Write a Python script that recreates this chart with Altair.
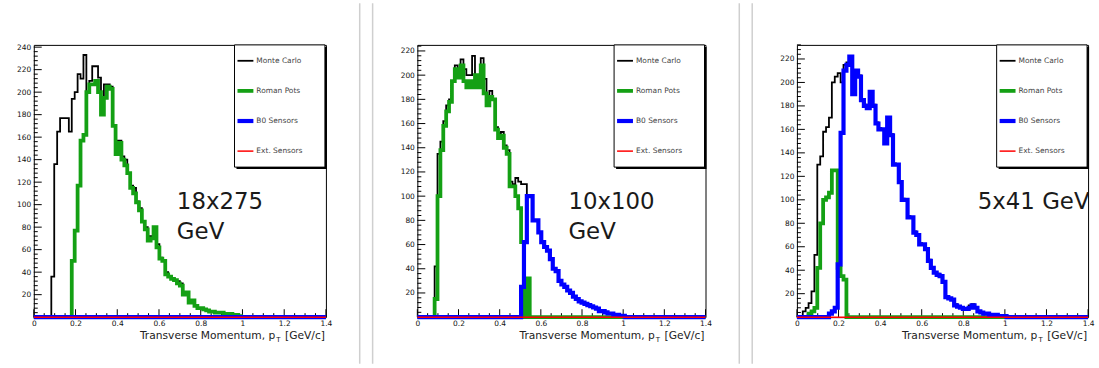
import altair as alt
import pandas as pd

NBINS = 100
XMAX = 1.4

# ---------------- data: bin contents (100 bins of 0.014 on 0..1.4) ----------------
# each series is given from its first listed bin (start index); other bins are 0
# Panel 1: 18x275 GeV
p1_mc_start = 6
p1_mc = [36, 136, 165, 177, 177, 177, 165, 194, 200, 216, 212, 233, 200, 210, 223, 223,
         213, 195, 207, 207, 205, 170, 157, 157, 143, 140, 128, 117, 115, 103, 97, 85,
         80, 72, 72, 80, 65, 53, 50, 40, 36, 35, 33, 32, 30, 22, 22, 14, 15, 10, 8, 8,
         7, 6, 5, 5, 4, 4, 4, 3, 3, 3, 2, 2, 1]
p1_rp_start = 13
p1_rp = [50, 77, 117, 157, 162, 200, 207, 207, 210, 200, 180, 195, 205, 203, 170, 145,
         155, 140, 135, 128, 115, 110, 102, 95, 85, 78, 68, 70, 80, 62, 52, 50, 38, 36,
         34, 33, 30, 28, 20, 22, 13, 15, 10, 8, 8, 7, 6, 5, 5, 4, 4, 4, 3, 3, 3, 2, 2, 1]
p1_b0_start = 0
p1_b0 = []
p1_ext_start = 0
p1_ext = []

# Panel 2: 10x100 GeV
p2_mc_start = 6
p2_mc = [42, 135, 145, 162, 175, 180, 195, 208, 205, 213, 205, 200, 200, 216, 200, 190,
         214, 197, 183, 187, 180, 157, 152, 153, 142, 138, 112, 110, 115, 112, 110, 110,
         100, 100, 80, 80, 70, 62, 58, 55, 48, 40, 38, 30, 27, 25, 22, 20, 17, 15, 13,
         12, 11, 10, 9, 8, 7, 5, 5, 4, 3, 3, 2, 2, 1, 1]
p2_rp_start = 6
p2_rp = [15, 100, 138, 158, 170, 178, 195, 205, 198, 208, 195, 190, 195, 190, 200, 190,
         208, 185, 175, 182, 180, 155, 148, 150, 140, 135, 108, 108, 100, 90, 62, 0, 32]
p2_b0_start = 36
p2_b0 = [25, 62, 100, 100, 80, 80, 70, 62, 58, 55, 48, 40, 38, 30, 27, 25, 22, 20, 17,
         15, 13, 12, 11, 10, 9, 8, 7, 5, 5, 4, 3, 3, 2, 2, 1, 1]
p2_ext_start = 0
p2_ext = []

# Panel 3: 5x41 GeV
p3_mc_start = 2
p3_mc = [5, 8, 12, 22, 53, 130, 137, 158, 162, 170, 200, 205, 208, 200, 215, 217, 222,
         192, 210, 206, 186, 181, 179, 192, 181, 166, 161, 160, 149, 170, 156, 131, 130,
         116, 101, 100, 86, 85, 73, 70, 63, 62, 58, 49, 42, 38, 37, 35, 30, 18, 16, 15,
         11, 9, 8, 7, 8, 10, 11, 8, 5, 4, 3, 3, 2, 2, 2, 1, 1, 1]
p3_rp_start = 4
p3_rp = [3, 5, 8, 42, 80, 100, 102, 106, 125, 125, 42, 35, 32]
p3_b0_start = 11
p3_b0 = [3, 5, 8, 45, 157, 210, 215, 222, 190, 210, 205, 185, 180, 178, 192, 180, 165,
         160, 160, 148, 170, 155, 130, 130, 115, 100, 100, 85, 85, 72, 70, 62, 62, 58,
         48, 42, 38, 36, 35, 30, 17, 16, 15, 10, 9, 8, 7, 7, 8, 10, 8, 5, 4, 3, 3, 2, 2,
         2, 1, 1, 1]
p3_ext_start = 0
p3_ext = []

series_names = ["Monte Carlo", "Roman Pots", "B0 Sensors", "Ext. Sensors"]
series_colors = ["#000000", "#14a014", "#0000ff", "#ff0000"]
series_widths = [1.8, 3.8, 4.2, 1.5]

panel_labels = ["18x275\nGeV", "10x100\nGeV", "5x41 GeV"]
panel_ymax = [242, 225, 232]
panel_width = [294, 290, 293]
PANEL_H = 274

x_label_values = [0, 0.2, 0.4, 0.6, 0.8, 1.0, 1.2, 1.4]
x_minor_values = [0.05, 0.1, 0.15, 0.25, 0.3, 0.35, 0.45, 0.5, 0.55, 0.65, 0.7, 0.75,
                  0.85, 0.9, 0.95, 1.05, 1.1, 1.15, 1.25, 1.3, 1.35]
y_label_values = [20, 40, 60, 80, 100, 120, 140, 160, 180, 200, 220, 240]
x_title_main = "Transverse Momentum, p"
x_title_sub = "T"
x_title_unit = "[GeV/c]"

FONT = "DejaVu Sans"

all_series = [
    [(p1_mc_start, p1_mc), (p1_rp_start, p1_rp), (p1_b0_start, p1_b0), (p1_ext_start, p1_ext)],
    [(p2_mc_start, p2_mc), (p2_rp_start, p2_rp), (p2_b0_start, p2_b0), (p2_ext_start, p2_ext)],
    [(p3_mc_start, p3_mc), (p3_rp_start, p3_rp), (p3_b0_start, p3_b0), (p3_ext_start, p3_ext)],
]


def hist_df(start, vals):
    arr = [0.0] * NBINS
    for i, v in enumerate(vals):
        arr[start + i] = v
    edges = [round(i * XMAX / NBINS, 6) for i in range(NBINS + 1)]
    return pd.DataFrame({"x": edges, "y": arr + [arr[-1]]})


one = pd.DataFrame({"k": [0]})


def make_panel(idx):
    W = panel_width[idx]
    H = PANEL_H
    ymax = panel_ymax[idx]
    xsc = alt.Scale(domain=[0, XMAX], nice=False, zero=False)
    ysc = alt.Scale(domain=[0, ymax], nice=False, zero=False)
    xa = alt.Axis(values=x_label_values, format="~g", ticks=False, domain=False, grid=False,
                  labelFontSize=7.5, labelPadding=2, labelFlush=False, labelOverlap=False,
                  labelFont=FONT, labelColor="#111", title=None)
    ya = alt.Axis(values=[v for v in y_label_values if v <= ymax], ticks=False, domain=False,
                  grid=False, labelFontSize=7.5, labelPadding=3, labelOverlap=False,
                  labelFont=FONT, labelColor="#111", title=None)
    X = lambda f: alt.X(f, type="quantitative", scale=xsc, axis=xa)
    Y = lambda f: alt.Y(f, type="quantitative", scale=ysc, axis=ya)

    layers = []
    y_major = pd.DataFrame({"v": [0] + [v for v in y_label_values if v <= ymax]})
    y_minor = pd.DataFrame({"v": [v for v in range(0, int(ymax) + 1, 4) if v % 20 != 0]})
    layers.append(alt.Chart(y_major).mark_rule(color="black", strokeWidth=1).encode(
        y=Y("v"), x=alt.value(0), x2=alt.value(8)))
    layers.append(alt.Chart(y_minor).mark_rule(color="black", strokeWidth=1).encode(
        y=Y("v"), x=alt.value(0), x2=alt.value(4)))
    layers.append(alt.Chart(pd.DataFrame({"v": x_label_values})).mark_rule(
        color="black", strokeWidth=1).encode(x=X("v"), y=alt.value(H), y2=alt.value(H - 8)))
    layers.append(alt.Chart(pd.DataFrame({"v": x_minor_values})).mark_rule(
        color="black", strokeWidth=1).encode(x=X("v"), y=alt.value(H), y2=alt.value(H - 4)))

    for s, (start, vals) in enumerate(all_series[idx]):
        layers.append(alt.Chart(hist_df(start, vals)).mark_line(
            interpolate="step-after", color=series_colors[s], strokeWidth=series_widths[s]
        ).encode(x=X("x"), y=Y("y")))

    # energy label
    lx = [144, 152, 182][idx]
    layers.append(alt.Chart(one).mark_text(
        align="left", baseline="alphabetic", fontSize=23, font=FONT, color="#1a1a1a",
        lineBreak="\n", lineHeight=30, clip=True
    ).encode(x=alt.value(lx), y=alt.value(165), text=alt.value(panel_labels[idx])))

    # legend box with shadow
    L = W - 92
    layers.append(alt.Chart(one).mark_rect(fill="black").encode(
        x=alt.value(L + 2), x2=alt.value(W + 1), y=alt.value(2), y2=alt.value(125)))
    layers.append(alt.Chart(one).mark_rect(fill="white", stroke="black", strokeWidth=1).encode(
        x=alt.value(L), x2=alt.value(W - 1), y=alt.value(0), y2=alt.value(123)))
    for k in range(4):
        yy = 16 + 30.3 * k
        layers.append(alt.Chart(one).mark_rule(
            color=series_colors[k], strokeWidth=series_widths[k]).encode(
            x=alt.value(L + 3), x2=alt.value(L + 19), y=alt.value(yy)))
        layers.append(alt.Chart(one).mark_text(
            align="left", baseline="middle", fontSize=7.5, font=FONT, color="#444").encode(
            x=alt.value(L + 22), y=alt.value(yy), text=alt.value(series_names[k])))

    # x-axis title, right aligned, with subscript
    layers.append(alt.Chart(one).mark_text(
        align="right", baseline="middle", fontSize=10.75, font=FONT, color="#222").encode(
        x=alt.value(W - 51), y=alt.value(H + 18.5), text=alt.value(x_title_main)))
    layers.append(alt.Chart(one).mark_text(
        align="left", baseline="middle", fontSize=7, font=FONT, color="#222").encode(
        x=alt.value(W - 50), y=alt.value(H + 22.5), text=alt.value(x_title_sub)))
    layers.append(alt.Chart(one).mark_text(
        align="right", baseline="middle", fontSize=10.75, font=FONT, color="#222").encode(
        x=alt.value(W - 1), y=alt.value(H + 18.5), text=alt.value(x_title_unit)))

    # slide separators (grey double lines) left of panels 2 and 3
    if idx > 0:
        for off in (-58, -45):
            layers.append(alt.Chart(one).mark_rule(color="#cfcfcf", strokeWidth=1.5).encode(
                x=alt.value(off), y=alt.value(-42), y2=alt.value(321)))

    return alt.layer(*layers).properties(width=W, height=H)


chart = alt.hconcat(
    make_panel(0), make_panel(1), make_panel(2), spacing=92, bounds="flush"
).properties(
    padding={"left": 16, "top": 0, "right": 2, "bottom": 3},
    background="white",
).configure_view(stroke="black", strokeWidth=1)

chart.save("out.html", embed_options={"renderer": "svg", "actions": False})
